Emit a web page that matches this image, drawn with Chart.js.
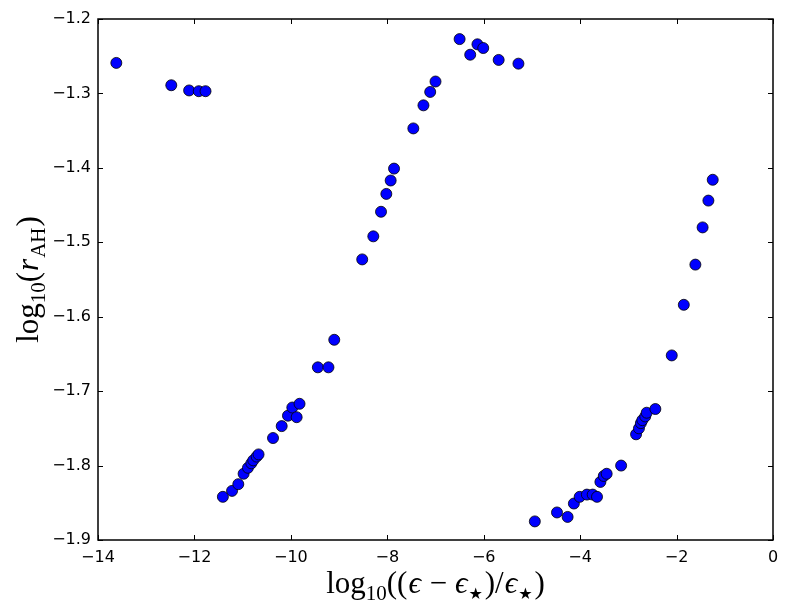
<!DOCTYPE html>
<html>
<head>
<meta charset="utf-8">
<script src="https://cdn.jsdelivr.net/npm/chart.js@4"></script>
<style>
  html, body { margin: 0; padding: 0; background: #fff; }
  #wrap { width: 789px; height: 613px; }
</style>
</head>
<body>
<div id="wrap"><canvas id="c" width="789" height="613"></canvas></div>
<script>
// ---- data ----
const xValues = [
  -13.62, -12.48, -12.11, -11.91, -11.77,
  -11.41, -11.22, -11.09, -10.98, -10.89, -10.82, -10.78, -10.71, -10.67,
  -10.37, -10.19, -10.06, -9.97, -9.88, -9.82, -9.44, -9.22, -9.10,
  -8.52, -8.29, -8.13, -8.02, -7.93, -7.86, -7.46, -7.25, -7.11, -7.00,
  -6.50, -6.28, -6.13, -6.01, -5.69, -5.28,
  -4.94, -4.48, -4.26, -4.13, -4.01, -3.86, -3.74, -3.65, -3.58, -3.51, -3.45,
  -3.15, -2.84, -2.78, -2.74, -2.71, -2.65, -2.62, -2.44,
  -2.10, -1.85, -1.61, -1.46, -1.34, -1.25
];
const yValues = [
  -1.259, -1.289, -1.296, -1.297, -1.297,
  -1.842, -1.834, -1.825, -1.811, -1.803, -1.797, -1.793, -1.788, -1.785,
  -1.763, -1.747, -1.733, -1.722, -1.735, -1.717, -1.668, -1.668, -1.631,
  -1.523, -1.492, -1.459, -1.435, -1.417, -1.401, -1.347, -1.316, -1.298, -1.284,
  -1.227, -1.248, -1.234, -1.239, -1.255, -1.260,
  -1.875, -1.863, -1.869, -1.851, -1.842, -1.839, -1.839, -1.842, -1.822, -1.814, -1.811,
  -1.800, -1.758, -1.750, -1.743, -1.739, -1.734, -1.729, -1.724,
  -1.652, -1.584, -1.530, -1.480, -1.444, -1.416
];
const xTicks = [-14, -12, -10, -8, -6, -4, -2, 0];
const yTicks = [-1.9, -1.8, -1.7, -1.6, -1.5, -1.4, -1.3, -1.2];

const points = xValues.map((x, i) => ({ x: x, y: yValues[i] }));

const SERIF = "'Liberation Serif', 'DejaVu Serif', serif";
const fmt = v => String(v).replace('-', '\u2212');

function drawRich(ctx, parts) {
  let total = 0;
  parts.forEach(p => { ctx.font = p.font; p.w = ctx.measureText(p.t).width + (p.gap || 0); total += p.w; });
  let x = -total / 2;
  parts.forEach(p => {
    ctx.font = p.font;
    ctx.fillText(p.t, x, p.dy || 0);
    x += p.w;
  });
}

const big = '31px ' + SERIF;
const bigI = 'italic 31px ' + SERIF;
const sub = '21px ' + SERIF;
const star = '16px DejaVu Sans';

const xTitleParts = [
  { t: 'log', font: big }, { t: '10', font: sub, dy: 7 },
  { t: '((', font: big, gap: 1 }, { t: '\u03F5', font: bigI, gap: 1 }, { t: ' \u2212 ', font: big },
  { t: '\u03F5', font: bigI, gap: 1 }, { t: '\u2605', font: star, dy: 6, gap: 2 },
  { t: ')/', font: big, gap: 1 }, { t: '\u03F5', font: bigI, gap: 1 },
  { t: '\u2605', font: star, dy: 6, gap: 2 }, { t: ')', font: big }
];
const yTitleParts = [
  { t: 'log', font: big }, { t: '10', font: sub, dy: 7 },
  { t: '(', font: big, gap: 1 }, { t: 'r', font: bigI, gap: 1 }, { t: 'AH', font: sub, dy: 7, gap: 1 },
  { t: ')', font: big }
];

const framePlugin = {
  id: 'frame',
  afterDraw(chart) {
    const ctx = chart.ctx;
    const a = chart.chartArea;
    const xs = chart.scales.x, ys = chart.scales.y;
    ctx.save();
    ctx.strokeStyle = '#000';
    ctx.lineWidth = 1;
    const L = 5;
    ctx.beginPath();
    xTicks.forEach(v => {
      const px = Math.round(xs.getPixelForValue(v)) + 0.5;
      ctx.moveTo(px, a.bottom); ctx.lineTo(px, a.bottom - L);
      ctx.moveTo(px, a.top); ctx.lineTo(px, a.top + L);
    });
    yTicks.forEach(v => {
      const py = Math.round(ys.getPixelForValue(v)) + 0.5;
      ctx.moveTo(a.left, py); ctx.lineTo(a.left + L, py);
      ctx.moveTo(a.right, py); ctx.lineTo(a.right - L, py);
    });
    ctx.stroke();
    ctx.lineWidth = 1.5;
    ctx.strokeRect(a.left, a.top, a.right - a.left, a.bottom - a.top);

    ctx.fillStyle = '#000';
    ctx.textBaseline = 'alphabetic';
    ctx.textAlign = 'left';
    ctx.save();
    ctx.translate((a.left + a.right) / 2, 593);
    drawRich(ctx, xTitleParts);
    ctx.restore();
    ctx.save();
    ctx.translate(38, (a.top + a.bottom) / 2);
    ctx.rotate(-Math.PI / 2);
    drawRich(ctx, yTitleParts);
    ctx.restore();
    ctx.restore();
  }
};

new Chart(document.getElementById('c'), {
  type: 'scatter',
  data: {
    datasets: [{
      data: points,
      backgroundColor: '#0000ff',
      borderColor: '#000000',
      borderWidth: 0.8,
      pointRadius: 5.5,
      pointHoverRadius: 5.5
    }]
  },
  options: {
    responsive: false,
    animation: false,
    events: [],
    layout: { padding: { top: 19, right: 16, left: 0, bottom: 0 } },
    plugins: { legend: { display: false }, tooltip: { enabled: false } },
    scales: {
      x: {
        type: 'linear',
        min: -14, max: 0,
        afterFit: s => { s.height = 73; },
        afterBuildTicks: s => { s.ticks = xTicks.map(v => ({ value: v })); },
        grid: { display: false, drawTicks: false },
        border: { display: false },
        ticks: {
          color: '#000', padding: 8,
          font: { family: 'DejaVu Sans', size: 16 },
          callback: v => fmt(v)
        }
      },
      y: {
        type: 'linear',
        min: -1.9, max: -1.2,
        afterFit: s => { s.width = 98; },
        afterBuildTicks: s => { s.ticks = yTicks.map(v => ({ value: v })); },
        grid: { display: false, drawTicks: false },
        border: { display: false },
        ticks: {
          color: '#000', padding: 7,
          font: { family: 'DejaVu Sans', size: 16 },
          callback: v => fmt(Number(v).toFixed(1))
        }
      }
    }
  },
  plugins: [framePlugin]
});
</script>
</body>
</html>
